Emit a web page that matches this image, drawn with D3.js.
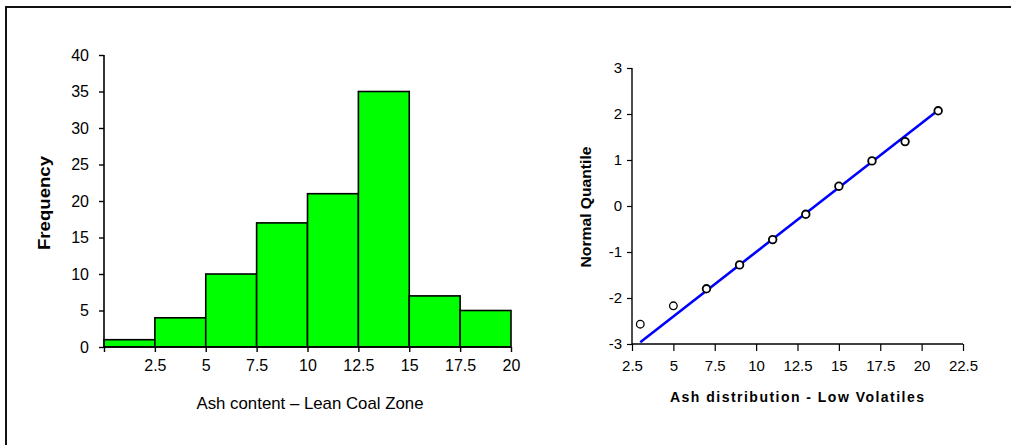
<!DOCTYPE html>
<html>
<head>
<meta charset="utf-8">
<script src="https://cdn.jsdelivr.net/npm/d3@7"></script>
<style>
  html, body { margin: 0; padding: 0; background: #fff; }
  svg { display: block; }
  text { font-family: "Liberation Sans", Arial, sans-serif; fill: #000; }
</style>
</head>
<body>
<svg id="chart" width="1011" height="445"></svg>
<script>
// ---- Data: histogram (left) ----
const binEdges = [0, 2.5, 5, 7.5, 10, 12.5, 15, 17.5, 20];
const binCounts = [1, 4, 10, 17, 21, 35, 7, 5];
const histXTicks = [0, 2.5, 5, 7.5, 10, 12.5, 15, 17.5, 20];
const histXTickLabels = ["", "2.5", "5", "7.5", "10", "12.5", "15", "17.5", "20"];
const histYTicks = [0, 5, 10, 15, 20, 25, 30, 35, 40];

// ---- Data: normal quantile plot (right) ----
const ashValues = [3, 5, 7, 9, 11, 13, 15, 17, 19, 21];
const normalQuantiles = [-2.57, -2.17, -1.80, -1.28, -0.73, -0.18, 0.43, 0.98, 1.40, 2.07];
const fitLineX = [3, 21];
const fitLineY = [-2.96, 2.08];
const qqXTicks = [2.5, 5, 7.5, 10, 12.5, 15, 17.5, 20, 22.5];
const qqYTicks = [-3, -2, -1, 0, 1, 2, 3];

const svg = d3.select("#chart");

// Frame
svg.append("line").attr("x1", 5).attr("y1", 7).attr("x2", 1011).attr("y2", 7)
  .attr("stroke", "#111").attr("stroke-width", 2);
svg.append("line").attr("x1", 6).attr("y1", 6).attr("x2", 6).attr("y2", 445)
  .attr("stroke", "#111").attr("stroke-width", 2);

// ================= Left: histogram =================
const hx = d3.scaleLinear().domain([0, 20]).range([104, 511]);
const hy = d3.scaleLinear().domain([0, 40]).range([347, 55]);
const gH = svg.append("g");

const bins = binCounts.map((c, i) => ({ x0: binEdges[i], x1: binEdges[i + 1], c }));
gH.selectAll("rect.bar").data(bins).join("rect")
  .attr("class", "bar")
  .attr("x", d => hx(d.x0))
  .attr("y", d => hy(d.c))
  .attr("width", d => hx(d.x1) - hx(d.x0))
  .attr("height", d => hy(0) - hy(d.c))
  .attr("fill", "#00ff00")
  .attr("stroke", "#000")
  .attr("stroke-width", 1.6);

const hyAxis = gH.append("g").attr("transform", `translate(${hx(0)},0)`)
  .call(d3.axisLeft(hy).tickValues(histYTicks).tickSize(5).tickPadding(10).tickFormat(d => String(d)));
const hxAxis = gH.append("g").attr("transform", `translate(0,${hy(0)})`)
  .call(d3.axisBottom(hx).tickValues(histXTicks).tickSize(5).tickPadding(8)
    .tickFormat((d, i) => histXTickLabels[i]));
[hyAxis, hxAxis].forEach(a => {
  a.attr("font-size", 16).attr("font-family", "Liberation Sans, Arial, sans-serif");
  a.select(".domain").attr("stroke", "#000").attr("stroke-width", 1.6);
  a.selectAll(".tick line").attr("stroke", "#000").attr("stroke-width", 1.4);
  a.selectAll("text").style("font-size", "16px").attr("fill", "#000");
});
hyAxis.select(".domain").attr("d", `M0,${hy(40)}V${hy(0)}`);
hxAxis.select(".domain").attr("d", `M${hx(0)},0H${hx(20)}`);

gH.append("text")
  .attr("transform", `translate(50,203) rotate(-90)`)
  .attr("text-anchor", "middle")
  .style("font-size", "16px").attr("font-weight", "bold")
  .attr("textLength", 94).attr("lengthAdjust", "spacingAndGlyphs")
  .text("Frequency");

gH.append("text")
  .attr("x", 310).attr("y", 409)
  .attr("text-anchor", "middle")
  .style("font-size", "17px")
  .attr("textLength", 227).attr("lengthAdjust", "spacingAndGlyphs")
  .text("Ash content – Lean Coal Zone");

// ================= Right: normal quantile plot =================
const qx = d3.scaleLinear().domain([2.5, 22.5]).range([632, 963]);
const qy = d3.scaleLinear().domain([-3, 3]).range([344, 68]);
const gQ = svg.append("g");

const qyAxis = gQ.append("g").attr("transform", `translate(${qx(2.5)},0)`)
  .call(d3.axisLeft(qy).tickValues(qqYTicks).tickSize(5).tickPadding(5).tickFormat(d => String(d)));
const qxAxis = gQ.append("g").attr("transform", `translate(0,${qy(-3)})`)
  .call(d3.axisBottom(qx).tickValues(qqXTicks).tickSize(7).tickPadding(9).tickFormat(d => String(d)));
[qyAxis, qxAxis].forEach(a => {
  a.attr("font-size", 15).attr("font-family", "Liberation Sans, Arial, sans-serif");
  a.select(".domain").attr("stroke", "#000").attr("stroke-width", 1.4);
  a.selectAll(".tick line").attr("stroke", "#000").attr("stroke-width", 1.2);
  a.selectAll("text").style("font-size", "15px").attr("fill", "#000");
});
qyAxis.select(".domain").attr("d", `M0,${qy(3)}V${qy(-3)}`);
qxAxis.select(".domain").attr("d", `M${qx(2.5)},0H${qx(22.5)}`);

const fitData = fitLineX.map((x, i) => [x, fitLineY[i]]);
gQ.append("path")
  .attr("d", d3.line().x(d => qx(d[0])).y(d => qy(d[1]))(fitData))
  .attr("stroke", "#0000ff").attr("stroke-width", 2.6).attr("fill", "none");

const pts = ashValues.map((x, i) => [x, normalQuantiles[i]]);
gQ.selectAll("circle.pt").data(pts).join("circle")
  .attr("class", "pt")
  .attr("cx", d => qx(d[0])).attr("cy", d => qy(d[1]))
  .attr("r", 3.8)
  .attr("fill", "#fff")
  .attr("stroke", "#000")
  .attr("stroke-width", (d, i) => i < 2 ? 1.3 : 1.8);

gQ.append("text")
  .attr("transform", `translate(591,207) rotate(-90)`)
  .attr("text-anchor", "middle")
  .style("font-size", "14px").attr("font-weight", "bold")
  .attr("textLength", 121).attr("lengthAdjust", "spacingAndGlyphs")
  .text("Normal Quantile");

gQ.append("text")
  .attr("x", 797).attr("y", 402)
  .attr("text-anchor", "middle")
  .style("font-size", "14px").attr("font-weight", "bold")
  .attr("textLength", 254).attr("lengthAdjust", "spacing")
  .text("Ash distribution - Low Volatiles");
</script>
</body>
</html>
